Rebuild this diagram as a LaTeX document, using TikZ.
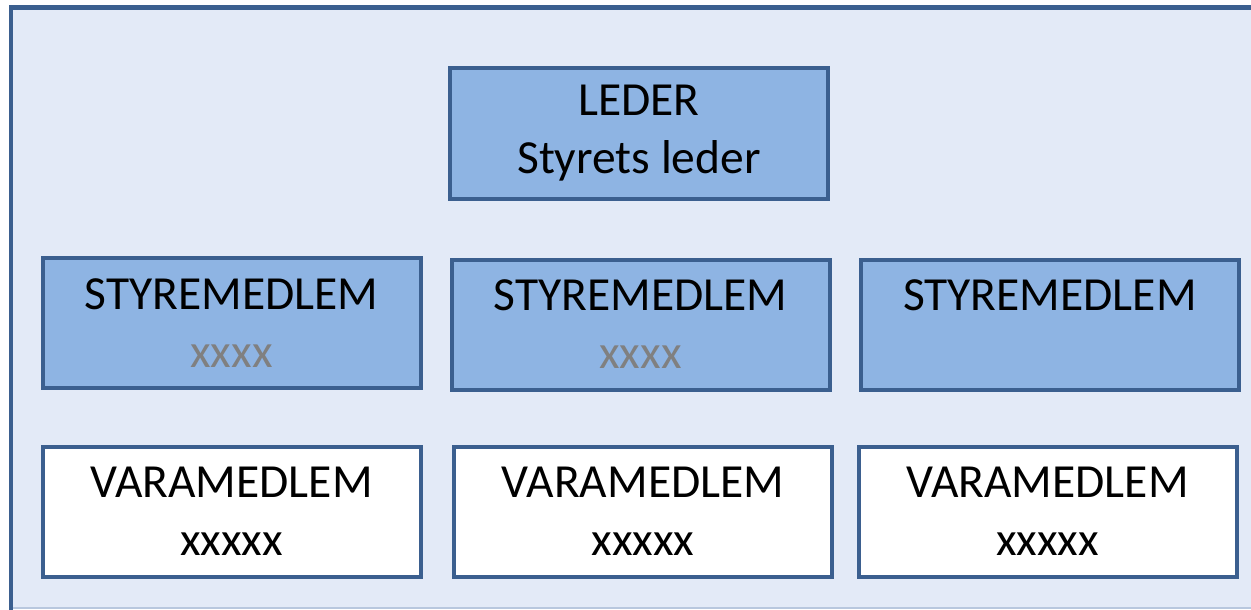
\documentclass[tikz,border=0pt]{standalone}
\usepackage{fontspec}
\setmainfont{Carlito}
\definecolor{frameblue}{HTML}{3B5F8F}
\definecolor{boxfill}{HTML}{8EB4E3}
\definecolor{bgblue}{HTML}{E3EAF7}
\definecolor{edgegray}{HTML}{B8C7DE}
\definecolor{graytext}{HTML}{808080}
\tikzset{
  orgbox/.style={draw=frameblue, line width=4pt, fill=boxfill, minimum width=378pt, minimum height=130pt,
    align=center, inner sep=0pt, font=\fontsize{47.5}{58}\selectfont},
  varabox/.style={orgbox, fill=white},
}
\begin{document}
\begin{tikzpicture}[x=1pt,y=-1pt]
\useasboundingbox (0,0) rectangle (1251,610);
\clip (0,0) rectangle (1251,610);
\fill[bgblue] (11,7.5) rectangle (1260,607);
\draw[edgegray, line width=1.5pt] (11,608) -- (1260,608);
\draw[frameblue, line width=4.5pt] (11,620) -- (11,7.5) -- (1260,7.5);
\node[orgbox] (leder) at (639,133.5) {LEDER\\Styrets leder};
\node[orgbox] (s1) at (231.5,323) {STYREMEDLEM\\\textcolor{graytext}{xxxx}};
\node[orgbox] (s2) at (640.5,324.5) {STYREMEDLEM\\\textcolor{graytext}{xxxx}};
\node[orgbox] (s3) at (1050,324.5) {STYREMEDLEM\\\phantom{xxxx}};
\node[varabox] (v1) at (231.5,511.5) {VARAMEDLEM\\xxxxx};
\node[varabox] (v2) at (643,511.5) {VARAMEDLEM\\xxxxx};
\node[varabox] (v3) at (1047.5,511.5) {VARAMEDLEM\\xxxxx};
\end{tikzpicture}
\end{document}
